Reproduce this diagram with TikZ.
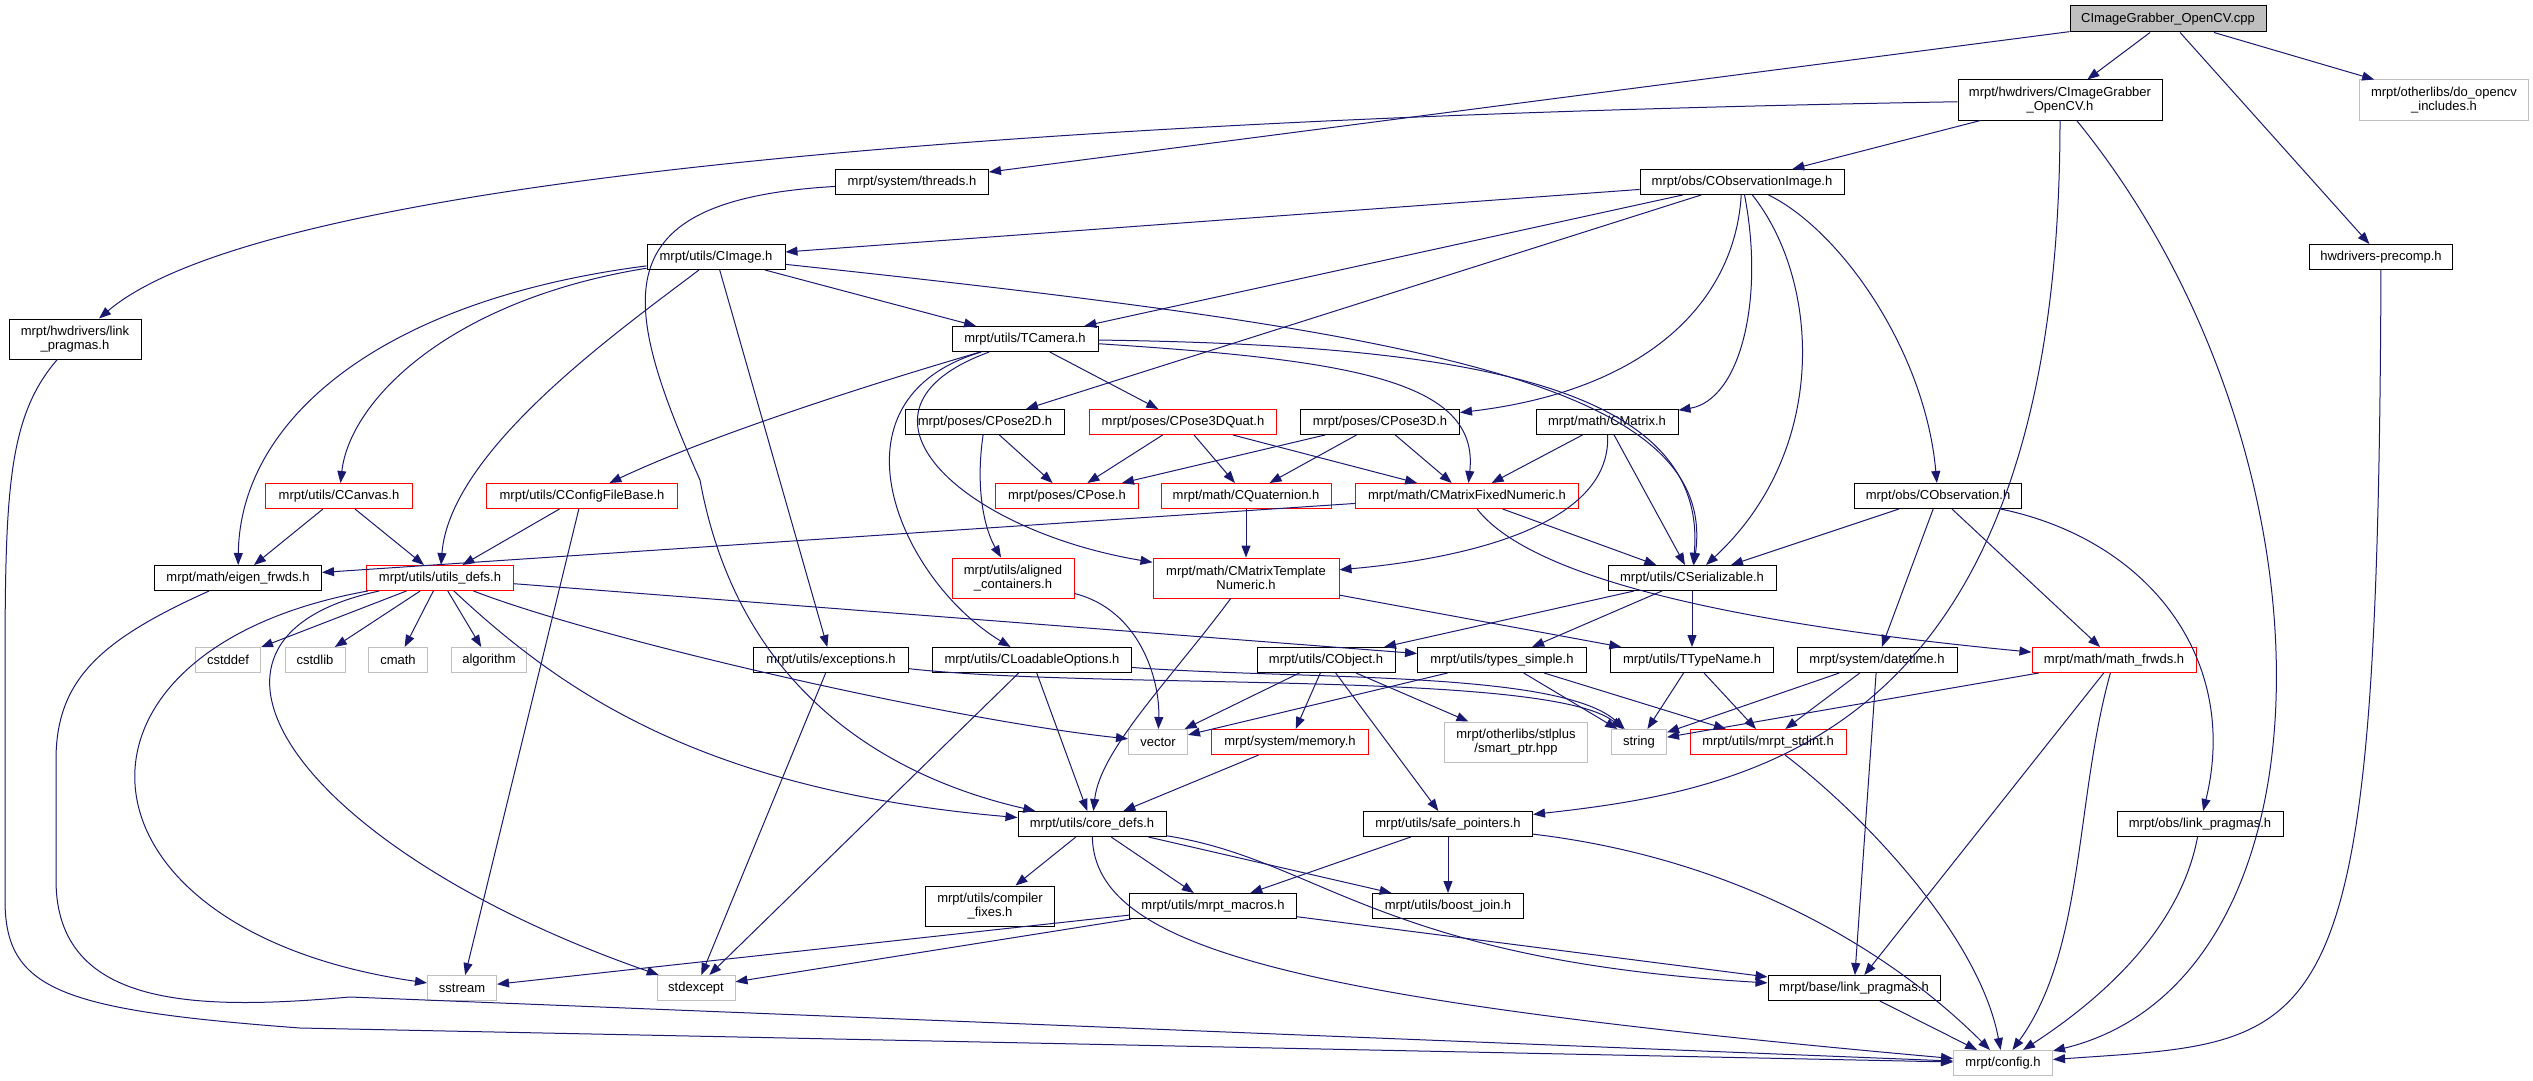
\documentclass[tikz,border=0pt]{standalone}
\usepackage{fontspec}
\setmainfont{Liberation Sans}
\usepackage{xcolor}
\usetikzlibrary{arrows.meta}
\definecolor{edgeblue}{RGB}{25,25,112}
\definecolor{sysgray}{RGB}{191,191,191}

\begin{document}
\begin{tikzpicture}[
    x=1pt, y=-1pt,
    box/.style={draw=black, fill=white, line width=1pt, inner sep=2pt, minimum height=25pt, align=center, font=\fontsize{13}{14}\selectfont},
    redbox/.style={box, draw=red},
    sysbox/.style={box, draw=sysgray},
    rootbox/.style={box, fill=sysgray, minimum height=26pt},
    dep/.style={->, draw=edgeblue, line width=1pt},
    >={Triangle[length=12pt,width=9pt]}
]
  \useasboundingbox (0,0) rectangle (2533,1081);

  \node[rootbox, minimum width=196pt] (root) at (2168,19) {CImageGrabber\_OpenCV.cpp};
  \node[box, minimum width=204pt, minimum height=40pt] (grabber) at (2060,100) {mrpt/hwdrivers/CImageGrabber\\\_OpenCV.h};
  \node[sysbox, minimum width=169pt, minimum height=40pt] (opencv) at (2444,100) {mrpt/otherlibs/do\_opencv\\\_includes.h};
  \node[box, minimum width=143pt] (precomp) at (2381,257) {hwdrivers-precomp.h};
  \node[box, minimum width=153pt] (threads) at (912,182) {mrpt/system/threads.h};
  \node[box, minimum width=204pt] (obsimg) at (1742,182) {mrpt/obs/CObservationImage.h};
  \node[box, minimum width=132pt, minimum height=40pt] (hwlink) at (75,339) {mrpt/hwdrivers/link\\\_pragmas.h};
  \node[box, minimum width=138pt] (image) at (716,257) {mrpt/utils/CImage.h};
  \node[box, minimum width=146pt] (camera) at (1025,339) {mrpt/utils/TCamera.h};
  \node[box, minimum width=159pt] (pose2d) at (985,422) {mrpt/poses/CPose2D.h};
  \node[redbox, minimum width=187pt] (pose3dquat) at (1183,422) {mrpt/poses/CPose3DQuat.h};
  \node[box, minimum width=159pt] (pose3d) at (1380,422) {mrpt/poses/CPose3D.h};
  \node[box, minimum width=142pt] (matrix) at (1607,422) {mrpt/math/CMatrix.h};
  \node[redbox, minimum width=147pt] (canvas) at (339,496) {mrpt/utils/CCanvas.h};
  \node[redbox, minimum width=191pt] (cfgbase) at (582,496) {mrpt/utils/CConfigFileBase.h};
  \node[redbox, minimum width=143pt] (pose) at (1067,496) {mrpt/poses/CPose.h};
  \node[redbox, minimum width=170pt] (quat) at (1246,496) {mrpt/math/CQuaternion.h};
  \node[redbox, minimum width=223pt] (fixednum) at (1467,496) {mrpt/math/CMatrixFixedNumeric.h};
  \node[box, minimum width=167pt] (observation) at (1938,496) {mrpt/obs/CObservation.h};
  \node[box, minimum width=167pt] (eigen) at (238,578) {mrpt/math/eigen\_frwds.h};
  \node[redbox, minimum width=147pt] (utilsdefs) at (440,578) {mrpt/utils/utils\_defs.h};
  \node[redbox, minimum width=122pt, minimum height=40pt] (aligned) at (1013,578) {mrpt/utils/aligned\\\_containers.h};
  \node[redbox, minimum width=186pt, minimum height=40pt] (templnum) at (1246,578) {mrpt/math/CMatrixTemplate\\Numeric.h};
  \node[box, minimum width=168pt] (serial) at (1692,578) {mrpt/utils/CSerializable.h};
  \node[sysbox, minimum width=65pt] (cstddef) at (228,660) {cstddef};
  \node[sysbox, minimum width=60pt] (cstdlib) at (315,660) {cstdlib};
  \node[sysbox, minimum width=59pt] (cmath) at (398,660) {cmath};
  \node[sysbox, minimum width=75pt] (algorithm) at (489,660) {algorithm};
  \node[box, minimum width=155pt] (exceptions) at (831,660) {mrpt/utils/exceptions.h};
  \node[box, minimum width=199pt] (loadable) at (1032,660) {mrpt/utils/CLoadableOptions.h};
  \node[box, minimum width=138pt] (object) at (1326,660) {mrpt/utils/CObject.h};
  \node[box, minimum width=169pt] (typessimple) at (1502,660) {mrpt/utils/types\_simple.h};
  \node[box, minimum width=163pt] (typename) at (1692,660) {mrpt/utils/TTypeName.h};
  \node[box, minimum width=160pt] (datetime) at (1877,660) {mrpt/system/datetime.h};
  \node[redbox, minimum width=164pt] (mathfrwds) at (2114,660) {mrpt/math/math\_frwds.h};
  \node[sysbox, minimum width=59pt] (vector) at (1158,742) {vector};
  \node[redbox, minimum width=157pt] (memory) at (1290,742) {mrpt/system/memory.h};
  \node[sysbox, minimum width=143pt, minimum height=40pt] (smartptr) at (1516,742) {mrpt/otherlibs/stlplus\\/smart\_ptr.hpp};
  \node[sysbox, minimum width=55pt] (string) at (1639,742) {string};
  \node[redbox, minimum width=156pt] (stdint) at (1768,742) {mrpt/utils/mrpt\_stdint.h};
  \node[box, minimum width=148pt] (coredefs) at (1092,824) {mrpt/utils/core\_defs.h};
  \node[box, minimum width=169pt] (safeptr) at (1448,824) {mrpt/utils/safe\_pointers.h};
  \node[box, minimum width=166pt] (obslink) at (2200,824) {mrpt/obs/link\_pragmas.h};
  \node[box, minimum width=129pt, minimum height=40pt] (compfixes) at (990,906) {mrpt/utils/compiler\\\_fixes.h};
  \node[box, minimum width=167pt] (macros) at (1213,906) {mrpt/utils/mrpt\_macros.h};
  \node[box, minimum width=151pt] (boostjoin) at (1448,906) {mrpt/utils/boost\_join.h};
  \node[sysbox, minimum width=69pt] (sstream) at (462,988) {sstream};
  \node[sysbox, minimum width=78pt] (stdexcept) at (696,988) {stdexcept};
  \node[box, minimum width=172pt] (baselink) at (1854,988) {mrpt/base/link\_pragmas.h};
  \node[sysbox, minimum width=99pt] (mrptconfig) at (2003,1063) {mrpt/config.h};

  \draw[dep] (root) -- (threads);
  \draw[dep] (root) -- (grabber);
  \draw[dep] (root) -- (precomp);
  \draw[dep] (root) -- (opencv);
  \draw[dep] (grabber) .. controls (900,120) and (250,190) .. (hwlink);
  \draw[dep] (grabber) -- (obsimg);
  \draw[dep] (grabber.south) .. controls (2060,740) and (1750,790) .. (safeptr);
  \draw[dep] (grabber) .. controls (2345,450) and (2345,980) .. (mrptconfig);
  \draw[dep] (precomp) .. controls (2378,1060) and (2330,1040) .. (mrptconfig);
  \draw[dep] (threads) .. controls (600,200) and (620,300) .. (700,480) .. controls (740,700) and (900,780) .. (coredefs);
  \draw[dep] (obsimg) -- (image);
  \draw[dep] (obsimg) -- (camera);
  \draw[dep] (obsimg) -- (pose2d);
  \draw[dep] (obsimg) .. controls (1735,300) and (1650,390) .. (pose3d);
  \draw[dep] (obsimg) .. controls (1765,300) and (1740,400) .. (matrix);
  \draw[dep] (obsimg) .. controls (1820,280) and (1830,450) .. (serial);
  \draw[dep] (obsimg) .. controls (1840,230) and (1925,350) .. (observation);
  \draw[dep] (hwlink) .. controls (5,420) and (5,500) .. (5,700) -- (5,900) .. controls (5,990) and (60,1010) .. (300,1028) -- (mrptconfig);
  \draw[dep] (image) -- (camera);
  \draw[dep] (image) .. controls (1400,330) and (1720,380) .. (serial);
  \draw[dep] (image) .. controls (450,300) and (350,400) .. (canvas);
  \draw[dep] (image) .. controls (380,300) and (240,420) .. (eigen);
  \draw[dep] (image) .. controls (620,330) and (450,450) .. (utilsdefs);
  \draw[dep] (image) -- (exceptions);
  \draw[dep] (camera) .. controls (850,390) and (700,440) .. (cfgbase);
  \draw[dep] (camera) -- (pose3dquat);
  \draw[dep] (camera) .. controls (820,400) and (900,580) .. (loadable);
  \draw[dep] (camera) .. controls (830,410) and (960,530) .. (templnum);
  \draw[dep] (camera) .. controls (1350,360) and (1480,380) .. (fixednum);
  \draw[dep] (camera) .. controls (1450,345) and (1710,380) .. (serial);
  \draw[dep] (pose2d) -- (pose);
  \draw[dep] (pose2d) .. controls (975,490) and (985,530) .. (aligned);
  \draw[dep] (pose3dquat) -- (pose);
  \draw[dep] (pose3dquat) -- (quat);
  \draw[dep] (pose3dquat) -- (fixednum);
  \draw[dep] (pose3d) -- (pose);
  \draw[dep] (pose3d) -- (quat);
  \draw[dep] (pose3d) -- (fixednum);
  \draw[dep] (matrix) -- (fixednum);
  \draw[dep] (matrix) -- (serial);
  \draw[dep] (matrix) .. controls (1612,530) and (1450,560) .. (templnum);
  \draw[dep] (quat) -- (templnum);
  \draw[dep] (fixednum) -- (eigen);
  \draw[dep] (fixednum) -- (serial);
  \draw[dep] (fixednum) .. controls (1540,590) and (1800,630) .. (mathfrwds);
  \draw[dep] (templnum) .. controls (1170,680) and (1100,750) .. (coredefs);
  \draw[dep] (templnum) -- (typename);
  \draw[dep] (canvas) -- (eigen);
  \draw[dep] (canvas) -- (utilsdefs);
  \draw[dep] (cfgbase) -- (utilsdefs);
  \draw[dep] (cfgbase) -- (sstream);
  \draw[dep] (aligned) .. controls (1140,610) and (1160,680) .. (vector);
  \draw[dep] (observation) -- (serial);
  \draw[dep] (observation) -- (datetime);
  \draw[dep] (observation) -- (mathfrwds);
  \draw[dep] (observation) .. controls (2150,540) and (2240,660) .. (obslink);
  \draw[dep] (eigen) .. controls (100,640) and (56,680) .. (56,760) -- (56,880) .. controls (56,1010) and (200,1010) .. (350,997) -- (mrptconfig);
  \draw[dep] (utilsdefs) -- (cstddef);
  \draw[dep] (utilsdefs) -- (cstdlib);
  \draw[dep] (utilsdefs) -- (cmath);
  \draw[dep] (utilsdefs) -- (algorithm);
  \draw[dep] (utilsdefs) .. controls (40,650) and (60,930) .. (sstream);
  \draw[dep] (utilsdefs) .. controls (150,640) and (300,850) .. (stdexcept);
  \draw[dep] (utilsdefs) .. controls (560,690) and (700,790) .. (coredefs);
  \draw[dep] (utilsdefs) .. controls (600,640) and (950,720) .. (vector);
  \draw[dep] (utilsdefs) -- (typessimple);
  \draw[dep] (serial) -- (object);
  \draw[dep] (serial) -- (typessimple);
  \draw[dep] (serial) -- (typename);
  \draw[dep] (exceptions) -- (stdexcept);
  \draw[dep] (exceptions) .. controls (1100,690) and (1550,670) .. (string);
  \draw[dep] (loadable) -- (coredefs);
  \draw[dep] (loadable) -- (stdexcept);
  \draw[dep] (loadable) .. controls (1300,680) and (1560,670) .. (string);
  \draw[dep] (object) -- (vector);
  \draw[dep] (object) -- (memory);
  \draw[dep] (object) -- (safeptr);
  \draw[dep] (object) -- (smartptr);
  \draw[dep] (typessimple) -- (vector);
  \draw[dep] (typessimple) -- (string);
  \draw[dep] (typessimple) -- (stdint);
  \draw[dep] (typename) -- (string);
  \draw[dep] (typename) -- (stdint);
  \draw[dep] (datetime) -- (string);
  \draw[dep] (datetime) -- (stdint);
  \draw[dep] (datetime) -- (baselink);
  \draw[dep] (mathfrwds) -- (string);
  \draw[dep] (mathfrwds) -- (baselink);
  \draw[dep] (mathfrwds) .. controls (2075,800) and (2085,950) .. (mrptconfig);
  \draw[dep] (memory) -- (coredefs);
  \draw[dep] (stdint) .. controls (1870,820) and (1980,940) .. (mrptconfig);
  \draw[dep] (coredefs) -- (compfixes);
  \draw[dep] (coredefs) -- (macros);
  \draw[dep] (coredefs) -- (boostjoin);
  \draw[dep] (coredefs) .. controls (1320,860) and (1380,960) .. (baselink);
  \draw[dep] (coredefs) .. controls (1095,950) and (1300,1000) .. (mrptconfig);
  \draw[dep] (safeptr) -- (macros);
  \draw[dep] (safeptr) -- (boostjoin);
  \draw[dep] (safeptr) .. controls (1750,860) and (1900,960) .. (mrptconfig);
  \draw[dep] (obslink) .. controls (2180,930) and (2100,1000) .. (mrptconfig);
  \draw[dep] (macros) -- (sstream);
  \draw[dep] (macros) -- (stdexcept);
  \draw[dep] (macros) -- (baselink);
  \draw[dep] (baselink) -- (mrptconfig);
\end{tikzpicture}
\end{document}
